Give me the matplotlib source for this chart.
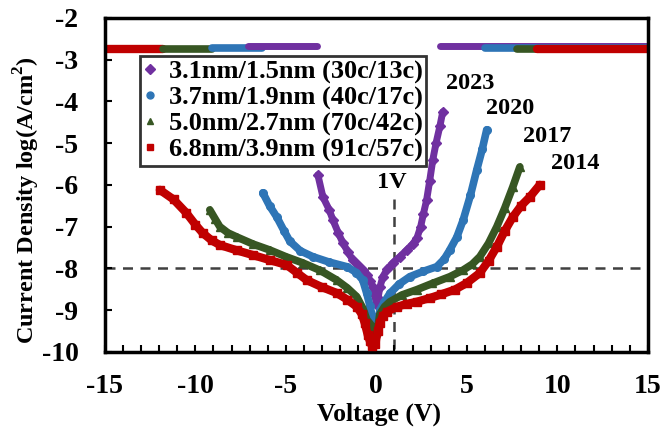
import matplotlib
matplotlib.use("Agg")
import matplotlib.pyplot as plt
from matplotlib.ticker import MultipleLocator

plt.rcParams['font.family'] = ['Liberation Serif', 'DejaVu Serif']
plt.rcParams['font.weight'] = 'bold'
plt.rcParams['axes.unicode_minus'] = False
plt.rcParams['mathtext.fontset'] = 'custom'
plt.rcParams['mathtext.rm'] = 'Liberation Serif:bold'
plt.rcParams['mathtext.bf'] = 'Liberation Serif:bold'

# ---- data (voltage V, log10 current density) ----
labels = ["3.1nm/1.5nm (30c/13c)", "3.7nm/1.9nm (40c/17c)",
          "5.0nm/2.7nm (70c/42c)", "6.8nm/3.9nm (91c/57c)"]
years = ["2023", "2020", "2017", "2014"]
colors = ["#7030A0", "#2E75B6", "#375623", "#C00000"]
markers = ["D", "o", "^", "s"]

purple_v = [-3.23, -2.95, -2.6, -2.4, -2.1, -1.85, -1.55, -1.3, -1.0, -0.75, -0.53, -0.35,
            -0.19, -0.08, 0.0, 0.1, 0.2, 0.36, 0.6, 0.91, 1.3, 1.68, 2.0, 2.24, 2.45, 2.6,
            2.78, 2.95, 3.12, 3.3, 3.51, 3.67]
purple_j = [-5.76, -6.29, -6.6, -6.84, -7.15, -7.39, -7.62, -7.8, -7.93, -8.04, -8.15, -8.3,
            -8.44, -8.65, -8.85, -8.7, -8.45, -8.2, -8.02, -7.87, -7.72, -7.56, -7.42, -7.28,
            -7.0, -6.7, -6.36, -5.9, -5.4, -5.0, -4.6, -4.25]

blue_v = [-6.27, -5.9, -5.5, -5.1, -4.78, -4.2, -3.51, -2.6, -1.63, -1.1, -0.75, -0.53,
          -0.35, -0.2, -0.1, 0.0, 0.1, 0.19, 0.45, 0.75, 1.25, 1.85, 2.6, 3.34, 3.75, 4.06,
          4.45, 4.8, 5.2, 5.55, 5.85, 6.1]
blue_j = [-6.19, -6.5, -6.77, -7.1, -7.35, -7.58, -7.72, -7.85, -7.96, -8.1, -8.28, -8.6,
          -8.9, -9.2, -9.45, -9.6, -9.35, -9.0, -8.8, -8.6, -8.38, -8.2, -8.07, -7.96, -7.78,
          -7.56, -7.25, -6.84, -6.25, -5.64, -5.15, -4.68]

green_v = [-9.2, -8.9, -8.65, -8.2, -7.7, -6.8, -5.89, -5.0, -4.06, -3.1, -2.19, -1.6,
           -1.08, -0.75, -0.52, -0.3, -0.1, 0.05, 0.19, 0.45, 0.75, 1.4, 2.24, 3.1, 4.06,
           4.8, 5.3, 5.72, 6.2, 6.66, 7.1, 7.54, 7.93]
green_j = [-6.6, -6.82, -7.0, -7.15, -7.25, -7.42, -7.56, -7.72, -7.87, -8.05, -8.28, -8.47,
           -8.68, -8.95, -9.23, -9.35, -9.6, -9.5, -9.1, -8.92, -8.8, -8.64, -8.51, -8.36,
           -8.2, -8.04, -7.9, -7.72, -7.4, -7.0, -6.55, -6.05, -5.57]

red_v = [-11.96, -11.2, -10.5, -10.0, -9.6, -9.1, -8.65, -7.7, -6.83, -5.9, -4.95, -4.4,
         -3.85, -3.0, -2.19, -1.6, -1.08, -0.8, -0.64, -0.47, -0.35, -0.25, -0.05, 0.08,
         0.19, 0.35, 0.58, 1.13, 1.7, 2.24, 2.96, 3.6, 4.34, 5.0, 5.72, 6.2, 6.66, 7.1,
         7.54, 8.0, 8.48, 9.03]
red_j = [-6.12, -6.35, -6.67, -6.95, -7.15, -7.33, -7.44, -7.57, -7.68, -7.8, -7.92, -8.1,
         -8.28, -8.45, -8.59, -8.75, -8.92, -9.1, -9.31, -9.6, -9.75, -9.85, -9.8, -9.5,
         -9.3, -9.15, -9.04, -8.92, -8.85, -8.8, -8.71, -8.62, -8.51, -8.35, -8.11, -7.82,
         -7.48, -7.1, -6.77, -6.5, -6.29, -6.0]

curves_v = [purple_v, blue_v, green_v, red_v]
curves_j = [purple_j, blue_j, green_j, red_j]

# compliance (saturated) readings: [start V, end V]
sat_neg_v = [[-7.1, -3.3], [-9.1, -6.3], [-11.8, -9.1], [-15.0, -11.8]]
sat_pos_v = [[3.5, 15.0], [6.0, 15.0], [7.8, 15.0], [8.9, 15.0]]
sat_j = [-2.68, -2.72, -2.74, -2.74]

# label positions (V, logJ)
year_pos_v = [5.17, 7.38, 9.42, 10.97]
year_pos_j = [-3.58, -4.18, -4.83, -5.5]

fig = plt.figure(figsize=(6.72, 4.36), dpi=100)
ax = fig.add_axes([0.156, 0.193, 0.808, 0.766])

lws = [5.0, 5.5, 5.5, 6.0]
mss = [5.5, 5.5, 6.0, 5.5]

# reference lines
ax.axhline(-8, color="#404040", lw=1.8, ls=(0, (4, 3)), zorder=1)
ax.plot([1, 1], [-6.35, -10], color="#404040", lw=1.8, ls=(0, (4, 3)), zorder=1)

# saturated segments: negative side drawn red->purple, positive purple->red
for i in [3, 2, 1, 0]:
    ax.plot(sat_neg_v[i], [sat_j[i]] * 2, color=colors[i], lw=lws[i],
            solid_capstyle="round", zorder=2)
for i in [0, 1, 2, 3]:
    ax.plot(sat_pos_v[i], [sat_j[i]] * 2, color=colors[i], lw=lws[i],
            solid_capstyle="round", zorder=2)

for i in range(4):
    ax.plot(curves_v[i], curves_j[i], color=colors[i], lw=lws[i],
            solid_capstyle="round", solid_joinstyle="round", zorder=3)
    ax.plot(curves_v[i], curves_j[i], ls="none", marker=markers[i], color=colors[i],
            ms=mss[i], zorder=3)

# legend proxies
handles = []
for i in range(4):
    h, = ax.plot([], [], ls="none", marker=markers[i], color=colors[i], ms=5)
    handles.append(h)
leg = ax.legend(handles, labels, loc="upper left", bbox_to_anchor=(0.064, 0.885),
                borderaxespad=0, frameon=True, fancybox=False, handlelength=0.5,
                handletextpad=0.45, labelspacing=0.08, borderpad=0.15,
                prop={"family": "Liberation Serif", "weight": "bold", "size": 19})
leg.get_frame().set_edgecolor("black")
leg.get_frame().set_linewidth(2.0)
leg.set_zorder(5)

for i in range(4):
    ax.text(year_pos_v[i], year_pos_j[i], years[i], ha="center", va="center",
            fontsize=17.5, fontweight="bold")
ax.text(0.85, -5.95, "1V", ha="center", va="center", fontsize=17.5, fontweight="bold")

ax.set_xlim(-15, 15)
ax.set_ylim(-10, -2)
ax.xaxis.set_major_locator(MultipleLocator(5))
ax.xaxis.set_minor_locator(MultipleLocator(1))
ax.yaxis.set_major_locator(MultipleLocator(1))
ax.tick_params(axis="both", which="both", direction="in", width=1.5, labelsize=20)
ax.tick_params(axis="both", which="major", length=5)
ax.tick_params(axis="x", which="major", pad=16)
ax.tick_params(axis="y", which="major", pad=19)
ax.tick_params(axis="x", which="minor", length=5)
ax.tick_params(top=False, right=False)
for lab in ax.get_xticklabels() + ax.get_yticklabels():
    lab.set_fontweight("bold")
for s in ax.spines.values():
    s.set_linewidth(2.5)

fig.text(379 / 672, 1 - 414 / 436, "Voltage (V)", fontsize=18.5, fontweight="bold",
         ha="center", va="center")
fig.text(27 / 672, 1 - 200 / 436, r"Current Density log(A/cm$^{\mathbf{2}}$)",
         fontsize=17.5, fontweight="bold", ha="center", va="center", rotation=90)

fig.savefig("out.png", dpi=100)
